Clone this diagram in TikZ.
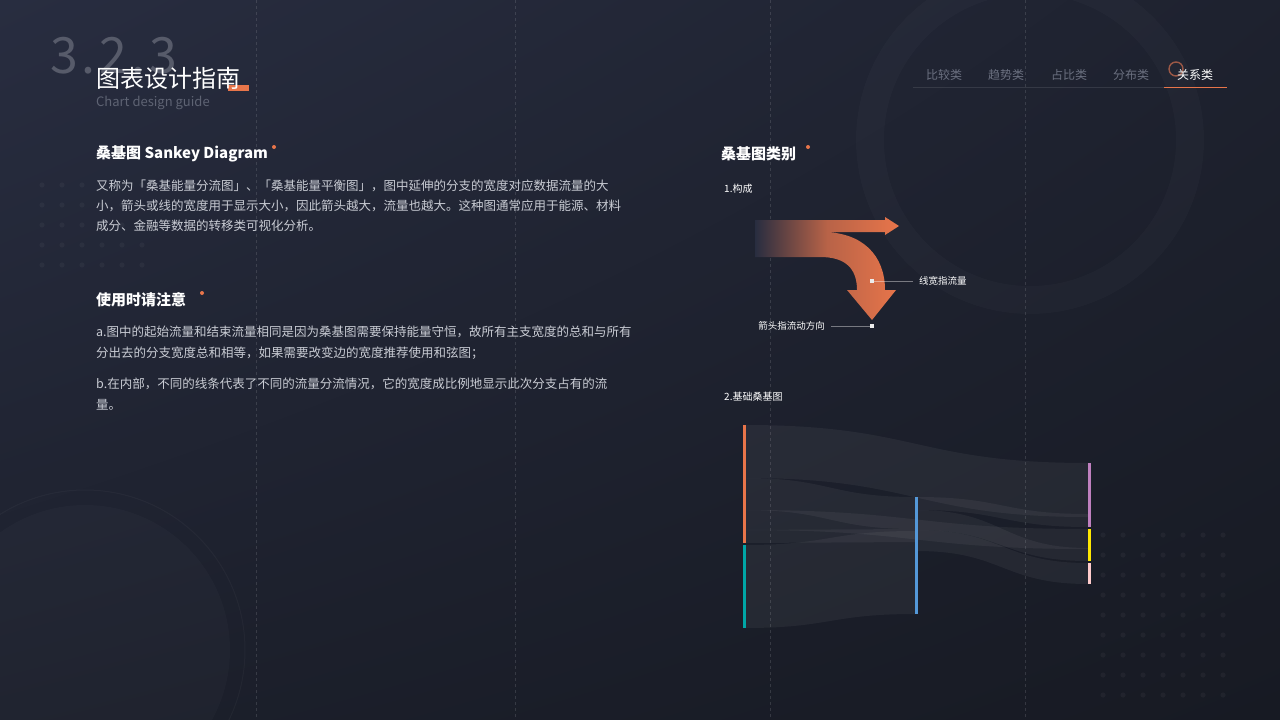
\documentclass[tikz,border=0pt]{standalone}
\usepackage{fontspec}
\setmainfont{Noto Sans CJK SC}
\usetikzlibrary{calc,shadings}
\definecolor{bgA}{HTML}{282D40}
\definecolor{bgB}{HTML}{171A23}
\definecolor{org}{HTML}{E8754A}
\definecolor{txt}{HTML}{C9CCD4}
\definecolor{gr}{HTML}{6B7080}
\tikzset{
 body/.style={anchor=west,text=txt,font=\fontsize{12.5}{20}\selectfont,inner sep=0},
 head/.style={anchor=west,text=white,font=\fontsize{15}{18}\selectfont\bfseries,inner sep=0},
 small/.style={anchor=west,text=white,font=\fontsize{10}{12}\selectfont,inner sep=0},
 tab/.style={text=gr,font=\fontsize{12}{14}\selectfont,inner sep=0},
 odot/.style={fill=org,circle,inner sep=0,minimum size=4pt},
 band/.style={fill=white,fill opacity=0.05},
 bar/.style={line width=3pt},
 vdash/.style={dashed,white!60!bgA,opacity=0.2,line width=0.6pt}
}
\newcommand{\sband}[6]{% x1 a b x2 c d
 \fill[band] (#1,#2) .. controls ({(#1+#4)/2},#2) and ({(#1+#4)/2},#5) .. (#4,#5) -- (#4,#6) .. controls ({(#1+#4)/2},#6) and ({(#1+#4)/2},#3) .. (#1,#3) -- cycle;}
\begin{document}
\begin{tikzpicture}[x=1pt,y=-1pt]
\useasboundingbox (0,0) rectangle (1280,720);
\shade[upper left=bgA,lower right=bgB,upper right=bgB!60!bgA,lower left=bgB!70!bgA] (0,0) rectangle (1280,720);
% decorative circles
\draw[white,opacity=0.02,line width=28pt] (1030,140) circle (160);
\fill[white,opacity=0.02] (85,650) circle (145);
\draw[white,opacity=0.03,line width=1pt] (85,650) circle (160);
% dot grids
\foreach \i in {0,...,5}\foreach \j in {0,...,4}{\fill[white,opacity=0.04] (42+\i*20,185+\j*20) circle (2.6);}
\foreach \i in {0,...,6}\foreach \j in {0,...,8}{\fill[white,opacity=0.04] (1103+\i*20,535+\j*20) circle (2.6);}
% dashed verticals
\foreach \x in {256,515,770,1025}{\draw[vdash] (\x,0) -- (\x,720);}
% title
\node[anchor=west,inner sep=0,text=white!22!bgA,font=\fontsize{50}{50}\selectfont] (num) at (50,56) {3\hspace{4pt}.\hspace{4pt}2\hspace{4pt}.\hspace{4pt}3};
\fill[org] (228,85) rectangle (249,91);
\node[anchor=west,inner sep=0,text=white,font=\fontsize{24}{26}\selectfont] (title) at (96,78) {图表设计指南};
\node[anchor=west,inner sep=0,text=gr!80!bgA,font=\fontsize{13}{14}\selectfont] (sub) at (96,103) {Chart design guide};
% tabs
\draw[white,opacity=0.1] (913,87.5) -- (1227,87.5);
\draw[org,line width=1.6pt] (1164,87.5) -- (1227,87.5);
\draw[org!60!bgA,line width=1.4pt] (1176,69) circle (7);
\node[tab] (t1) at (944,75) {比较类};
\node[tab] (t2) at (1006,75) {趋势类};
\node[tab] (t3) at (1069,75) {占比类};
\node[tab] (t4) at (1131,75) {分布类};
\node[tab,text=white] (t5) at (1195,75) {关系类};
% left texts
\node[head] (h1) at (96,154) {桑基图 Sankey Diagram};
\node[odot] (d1) at (274,147) {};
\node[body] (p1) at (96,186) {又称为「桑基能量分流图」、「桑基能量平衡图」，图中延伸的分支的宽度对应数据流量的大};
\node[body] (p2) at (96,206) {小，箭头或线的宽度用于显示大小，因此箭头越大，流量也越大。这种图通常应用于能源、材料};
\node[body] (p3) at (96,226) {成分、金融等数据的转移类可视化分析。};
\node[head] (h2) at (96,300) {使用时请注意};
\node[odot] (d2) at (202,293) {};
\node[body] (a1) at (96,332) {a.图中的起始流量和结束流量相同是因为桑基图需要保持能量守恒，故所有主支宽度的总和与所有};
\node[body] (a2) at (96,353) {分出去的分支宽度总和相等，如果需要改变边的宽度推荐使用和弦图；};
\node[body] (b1) at (96,384) {b.在内部，不同的线条代表了不同的流量分流情况，它的宽度成比例地显示此次分支占有的流};
\node[body] (b2) at (96,405) {量。};
% right
\node[head] (h3) at (721,154) {桑基图类别};
\node[odot] (d3) at (808,147) {};
\node[small] (s1) at (724,189) {1.构成};
\node[small] (s2) at (724,397) {2.基础桑基图};
% arrow
\shade[left color=bgA,right color=org,middle color=org!75!bgA]
 (755,220) -- (885,220) -- (885,217) -- (899,226) -- (885,235) -- (885,232)
 -- (822,232) .. controls (862,232) and (885,255) .. (885,290) -- (896,290) -- (872,320) -- (847,290) -- (857,290)
 .. controls (857,268) and (845,257) .. (820,257) -- (755,257) -- cycle;
\node[fill=white!85!gray,inner sep=0,minimum size=4pt] (m1) at (872,281) {};
\node[fill=white!85!gray,inner sep=0,minimum size=4pt] (m2) at (872,326) {};
\node[small,font=\fontsize{9.5}{10}\selectfont] (l1) at (919,281) {线宽指流量};
\node[small,font=\fontsize{9.5}{10}\selectfont,anchor=east] (l2) at (825,326) {箭头指流动方向};
\draw[white,opacity=0.4] (m1) -- ([xshift=-6pt]l1.west);
\draw[white,opacity=0.4] (m2) -- ([xshift=6pt]l2.east);
% sankey bands
\sband{745}{425}{478}{1088}{463}{517}
\sband{745}{478}{510}{915}{497}{529}
\sband{745}{510}{530}{1088}{529}{549}
\sband{745}{530}{543}{915}{529}{542}
\sband{745}{545}{628}{915}{531}{614}
\sband{917}{497}{510}{1088}{514}{527}
\sband{917}{510}{530}{1088}{548}{561}
\sband{917}{530}{551}{1088}{563}{584}
% sankey nodes
\draw[bar,color=org] (744,425) coordinate (o1) -- (744,543) coordinate (o2);
\draw[bar,color=teal!70!cyan] (744,545) -- (744,628);
\draw[bar,color=cyan!60!blue!70!white] (916,497) -- (916,614);
\draw[bar,color=violet!50!white] (1089,463) -- (1089,527);
\draw[bar,color=yellow!90!orange] (1089,529) -- (1089,561);
\draw[bar,color=pink!80!white] (1089,563) -- (1089,584);
\end{tikzpicture}
\end{document}
